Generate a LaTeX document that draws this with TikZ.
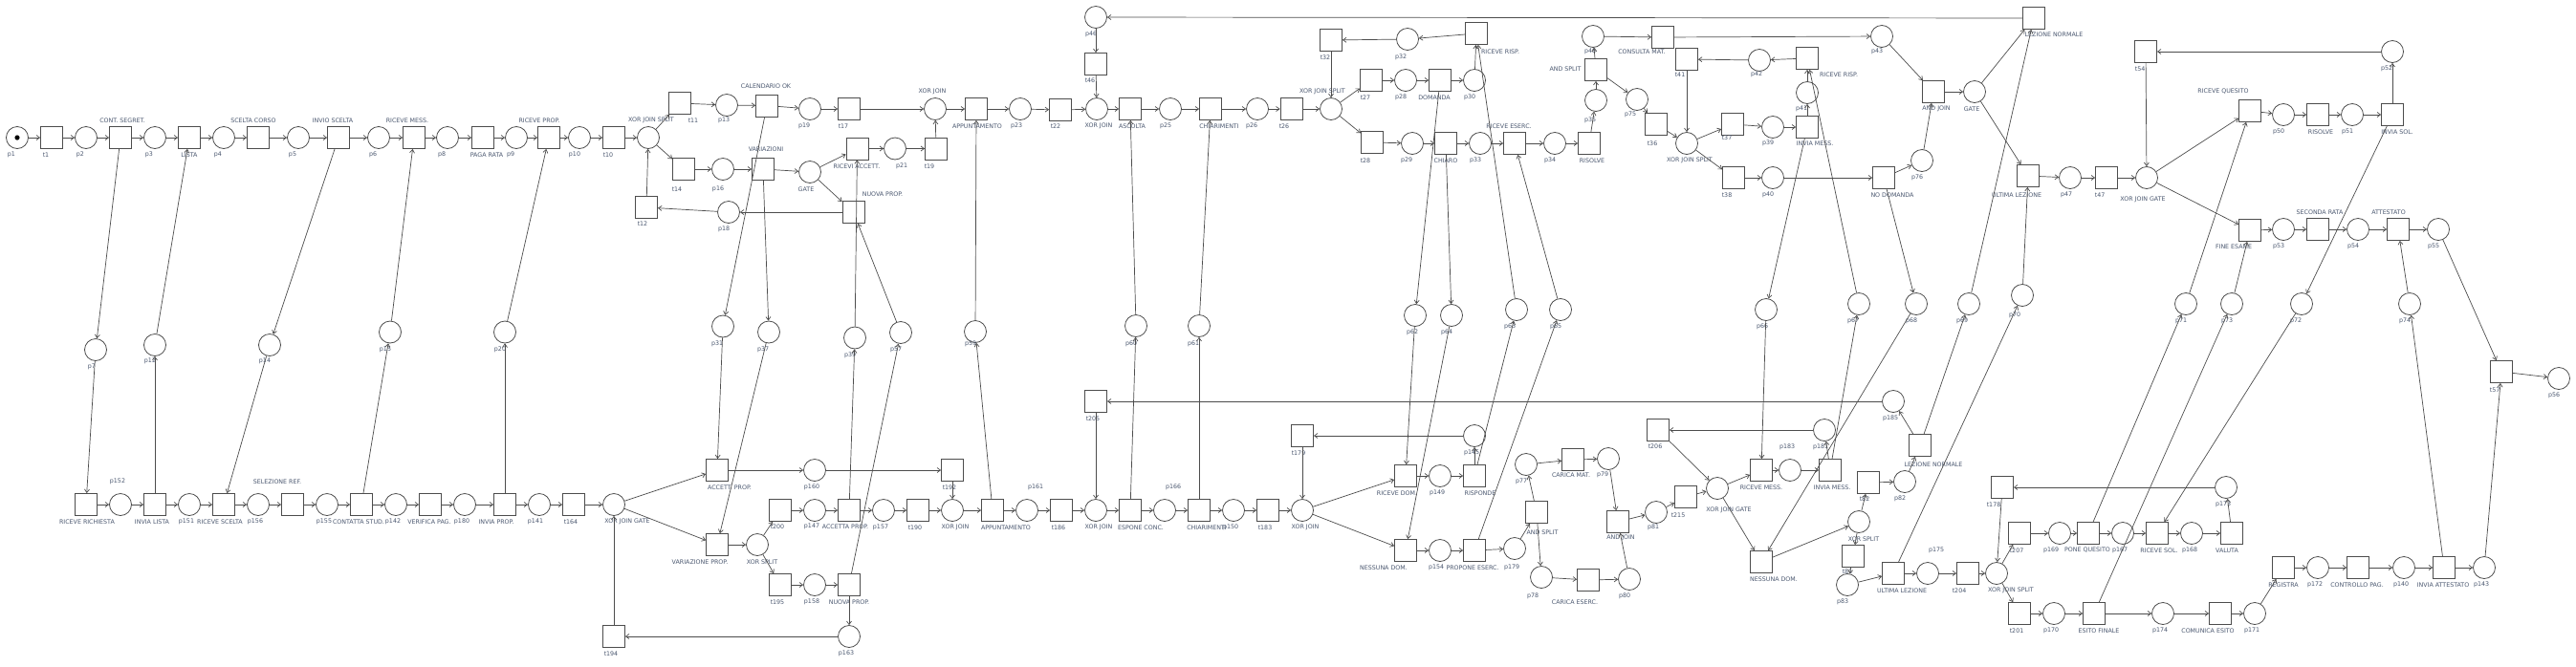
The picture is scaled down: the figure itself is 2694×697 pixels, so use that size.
\documentclass[tikz,border=0pt]{standalone}
\usepackage{fontspec}
\setmainfont{DejaVu Sans}
\usetikzlibrary{arrows.meta}
\definecolor{lnc}{HTML}{4D4D4D}
\definecolor{labc}{RGB}{75,88,112}
\tikzset{
 place/.style={circle,draw=lnc,line width=0.8pt,minimum size=23pt,inner sep=0pt},
 trans/.style={rectangle,draw=lnc,line width=0.8pt,minimum width=23pt,minimum height=23pt,inner sep=0pt},
 lab/.style={font=\fontsize{6.3}{7}\selectfont,text=labc,inner sep=0pt},
 arc/.style={draw=lnc,line width=0.7pt,-{Straight Barb[length=3.5pt,width=5pt]}},
}
\newcommand\PLc[4]{\node[place] (#1) at (#2) {}; \node[lab] (#1l) at (#4) {#3};}
\newcommand\TRc[4]{\node[trans] (#1) at (#2) {}; \node[lab] (#1l) at (#4) {#3};}
\begin{document}
\begin{tikzpicture}[x=1pt,y=-1pt]
\useasboundingbox (0,0) rectangle (2694,697);
\fill[white] (0,0) rectangle (2694,697);
% ---------- top places
\PLc{p1}{18,144}{p1}{12,162}
\fill[black] (p1) circle (2.6);
\PLc{p2}{90,144}{p2}{84,162}
\PLc{p3}{162,144}{p3}{156,162}
\PLc{p4}{234,144}{p4}{228,162}
\PLc{p5}{312,144}{p5}{306,162}
\PLc{p6}{396,144}{p6}{390,162}
\PLc{p8}{468,144}{p8}{462,162}
\PLc{p9}{540,144}{p9}{534,162}
\PLc{p10}{606,144}{p10}{601,162}
\PLc{xjs1}{678,144}{XOR JOIN SPLIT}{681,126}
\PLc{p13}{760,110}{p13}{757,126}
\PLc{p19}{847,114}{p19}{841,132}
\PLc{p16}{756,177}{p16}{751,198}
\PLc{gate1}{847,180}{GATE}{843,198}
\PLc{p18}{762,222}{p18}{757,240}
\PLc{p21}{936,155.5}{p21}{943,174}
\PLc{xj1}{978,114}{XOR JOIN}{975,96}
\PLc{p23}{1067,114}{p23}{1063,132}
\PLc{xj2}{1147,114}{XOR JOIN}{1149,132}
\PLc{p25}{1224,114}{p25}{1219,132}
\PLc{p26}{1315,114}{p26}{1309,132}
\PLc{p46}{1146,18}{p46}{1141,36}
\PLc{xjs2}{1392,114}{XOR JOIN SPLIT}{1383,96}
\PLc{p32}{1472,41}{p32}{1465,60}
\PLc{p28}{1470,84}{p28}{1465,102}
\PLc{p30}{1542,84}{p30}{1537,102}
\PLc{p29}{1477,150}{p29}{1471,168}
\PLc{p33}{1548,150}{p33}{1543,168}
\PLc{p34}{1626,150}{p34}{1621,168}
\PLc{p35}{1669,105}{p35}{1663,126}
\PLc{p48}{1666,38}{p48}{1663,54}
\PLc{p75}{1712,104}{p75}{1705,120}
\PLc{xjs3}{1764,150}{XOR JOIN SPLIT}{1767,168}
\PLc{p42}{1840,63}{p42}{1837,78}
\PLc{p39a}{1854,133}{p39}{1849,150}
\PLc{p41}{1890,97}{p41}{1884,114}
\PLc{p40}{1854,186}{p40}{1849,204}
\PLc{p43}{1968,38}{p43}{1963,54}
\PLc{p76}{2010,168}{p76}{2005,186}
\PLc{gate2}{2065,96}{GATE}{2062,114}
\PLc{p47}{2165,186}{p47}{2161,204}
\PLc{xjg1}{2245,186}{XOR JOIN GATE}{2241,209}
\PLc{p50}{2388,120}{p50}{2383,138}
\PLc{p51}{2460,120}{p51}{2455,138}
\PLc{p52}{2502,54}{p52}{2496,72}
\PLc{p53}{2388,240}{p53}{2383,258}
\PLc{p54}{2466,240}{p54}{2461,258}
\PLc{p55}{2550,240}{p55}{2545,258}
% ---------- middle places
\PLc{p7}{100,366}{p7}{96,384}
\PLc{p12}{162,361}{p12}{157,378}
\PLc{p14}{282,361}{p14}{277,378}
\PLc{p15}{408,347.5}{p15}{403,366}
\PLc{p20}{528,347.5}{p20}{523,366}
\PLc{p31}{756,341.5}{p31}{750,360}
\PLc{p37}{804,347.5}{p37}{798,366}
\PLc{p39b}{894,353.5}{p39}{889,372}
\PLc{p57}{942,348}{p57}{937,366}
\PLc{p59}{1020,347}{p59}{1015,360}
\PLc{p60}{1188,341}{p60}{1183,360}
\PLc{p61}{1254,341}{p61}{1248,360}
\PLc{p62}{1480,330}{p62}{1477,348}
\PLc{p64}{1518,330}{p64}{1513,348}
\PLc{p63}{1586,324}{p63}{1579,342}
\PLc{p65}{1632,324}{p65}{1627,342}
\PLc{p66}{1847,324}{p66}{1843,342}
\PLc{p67}{1944,318}{p67}{1938,336}
\PLc{p68}{2004,318}{p68}{1999,336}
\PLc{p69}{2059,318}{p69}{2052,336}
\PLc{p70}{2115,309}{p70}{2107,330}
\PLc{p71}{2286,318}{p71}{2281,336}
\PLc{p73}{2334,318}{p73}{2329,336}
\PLc{p72}{2407,318}{p72}{2401,336}
\PLc{p74}{2520,318}{p74}{2515,336}
% ---------- bottom places
\PLc{p152}{126,528}{p152}{123,504}
\PLc{p151}{198,528}{p151}{195,546}
\PLc{p156}{270,528}{p156}{267,546}
\PLc{p155}{342,528}{p155}{339,546}
\PLc{p142}{414,528}{p142}{411,546}
\PLc{p180}{486,528}{p180}{483,546}
\PLc{p141}{564,528}{p141}{560,546}
\PLc{xjg2}{642,528}{XOR JOIN GATE}{656,546}
\PLc{p160}{852,492}{p160}{849,510}
\PLc{xs1}{792,570}{XOR SPLIT}{797,588}
\PLc{p147}{852,534}{p147}{849,551}
\PLc{p158}{852,612}{p158}{849,630}
\PLc{p163}{888,666}{p163}{885,684}
\PLc{p157}{924,534}{p157}{921,552}
\PLc{xj3}{996,534}{XOR JOIN}{999,552}
\PLc{p161}{1074,534}{p161}{1083,510}
\PLc{xj4}{1146,534}{XOR JOIN}{1149,552}
\PLc{p166}{1218,534}{p166}{1227,510}
\PLc{p150}{1290,534}{p150}{1287,552}
\PLc{xj5}{1362,534}{XOR JOIN}{1365,552}
\PLc{p145}{1542,456}{p145}{1539,474}
\PLc{p149}{1506,498}{p149}{1503,516}
\PLc{p154}{1506,576}{p154}{1502,594}
\PLc{p179}{1584,574}{p179}{1581,594}
\PLc{p77}{1596,486}{p77}{1591,504}
\PLc{p79}{1682,480}{p79}{1676,497}
\PLc{p78}{1612,604}{p78}{1603,624}
\PLc{p80}{1704,606}{p80}{1699,624}
\PLc{p81}{1732,536}{p81}{1729,552}
\PLc{xjg3}{1796,511}{XOR JOIN GATE}{1808,534}
\PLc{p183}{1872,492}{p183}{1869,468}
\PLc{p181}{1908,450}{p181}{1904,468}
\PLc{p185}{1980,420}{p185}{1977,438}
\PLc{xs2}{1944,546}{XOR SPLIT}{1949,564}
\PLc{p82}{1992,504}{p82}{1987,522}
\PLc{p83}{1932,612}{p83}{1927,630}
\PLc{p175}{2016,600}{p175}{2025,576}
\PLc{xjs4}{2088,600}{XOR JOIN SPLIT}{2103,618}
\PLc{p169}{2154,558}{p169}{2145,576}
\PLc{p167}{2220,558}{p167}{2217,576}
\PLc{p168}{2292,558}{p168}{2290,576}
\PLc{p173}{2328,510}{p173}{2325,528}
\PLc{p170}{2148,642}{p170}{2145,660}
\PLc{p174}{2262,642}{p174}{2259,660}
\PLc{p171}{2358,642}{p171}{2355,660}
\PLc{p172}{2424,594}{p172}{2421,612}
\PLc{p140}{2514,594}{p140}{2511,612}
\PLc{p143}{2598,594}{p143}{2595,612}
\PLc{p56}{2676,396}{p56}{2671,414}
% ---------- top transitions
\TRc{t1}{54,144}{t1}{48,162}
\TRc{cs}{126,144}{CONT. SEGRET.}{128,126}
\TRc{lista}{198,144}{LISTA}{198,162}
\TRc{sc}{270,144}{SCELTA CORSO}{265,126}
\TRc{is}{354,144}{INVIO SCELTA}{348,126}
\TRc{rm1}{433,144}{RICEVE MESS.}{426,126}
\TRc{pr}{505,144}{PAGA RATA}{509,162}
\TRc{rp}{574,144}{RICEVE PROP.}{564,126}
\TRc{t10}{642,144}{t10}{636,162}
\TRc{t11}{711,108}{t11}{725,126}
\TRc{cal}{802,110.5}{CALENDARIO OK}{801,90}
\TRc{t17}{888,114}{t17}{882,132}
\TRc{t14}{715,177}{t14}{708,198}
\TRc{var}{798,177}{VARIAZIONI}{801,156}
\TRc{ra}{896.5,155.5}{RICEVI ACCETT.}{896,174}
\TRc{np1}{892.5,222}{NUOVA PROP.}{923,203}
\TRc{t12}{676,217}{t12}{672,234}
\TRc{t19}{979,155.5}{t19}{972,174}
\TRc{app1}{1021,114}{APPUNTAMENTO}{1022,132}
\TRc{t22}{1109,115}{t22}{1104,132}
\TRc{t46}{1146,67}{t46}{1140,84}
\TRc{asc}{1182,114}{ASCOLTA}{1184,132}
\TRc{chi1}{1266,114}{CHIARIMENTI}{1275,132}
\TRc{t26}{1350.5,114}{t26}{1343,132}
\TRc{t32}{1392,42}{t32}{1386,60}
\TRc{rr1}{1544,35}{RICEVE RISP.}{1569,54}
\TRc{t27}{1434,84}{t27}{1428,102}
\TRc{dom}{1506,84}{DOMANDA}{1500,102}
\TRc{t28}{1435,149}{t28}{1428,168}
\TRc{chiaro}{1512,150}{CHIARO}{1512,168}
\TRc{re}{1584,150}{RICEVE ESERC.}{1578,132}
\TRc{ris1}{1662,150}{RISOLVE}{1665,168}
\TRc{as1}{1669,73}{AND SPLIT}{1637,72}
\TRc{cm}{1739,39}{CONSULTA MAT.}{1717,54}
\TRc{t36}{1732,130}{t36}{1728,150}
\TRc{t41}{1764,62}{t41}{1757,78}
\TRc{t37}{1812,130}{t37}{1806,144}
\TRc{t38}{1813,186}{t38}{1806,204}
\TRc{im1}{1890,133}{INVIA MESS.}{1898,150}
\TRc{rr2}{1890,61}{RICEVE RISP.}{1923,78}
\TRc{nd}{1970,186}{NO DOMANDA}{1979,204}
\TRc{aj1}{2022,96}{AND JOIN}{2025,114}
\TRc{ln1}{2127,19}{LEZIONE NORMALE}{2148,36}
\TRc{ul1}{2121,184}{ULTIMA LEZIONE}{2109,204}
\TRc{t47}{2203,186}{t47}{2196,204}
\TRc{t54}{2244,54}{t54}{2238,72}
\TRc{rq}{2353,116}{RICEVE QUESITO}{2325,96}
\TRc{ris2}{2424,120}{RISOLVE}{2427,138}
\TRc{isol}{2502,120}{INVIA SOL.}{2507,138}
\TRc{fe}{2353,241}{FINE ESAME}{2336,258}
\TRc{sr}{2424,240}{SECONDA RATA}{2426,222}
\TRc{att}{2508,240}{ATTESTATO}{2498,222}
% ---------- bottom transitions
\TRc{rric}{90,528}{RICEVE RICHIESTA}{91,546}
\TRc{il}{162,528}{INVIA LISTA}{159,546}
\TRc{rs}{234,528}{RICEVE SCELTA}{230,546}
\TRc{sel}{306,528}{SELEZIONE REF.}{290,504}
\TRc{cst}{378,528}{CONTATTA STUD.}{375,546}
\TRc{vp}{450,528}{VERIFICA PAG.}{449,546}
\TRc{ip}{528,528}{INVIA PROP.}{519,546}
\TRc{t164}{600,528}{t164}{597,546}
\TRc{acc}{750,492}{ACCETT. PROP.}{763,510}
\TRc{vprop}{750,570}{VARIAZIONE PROP.}{732,588}
\TRc{t200}{816,534}{t200}{813,551}
\TRc{accp}{888,534}{ACCETTA PROP.}{884,551}
\TRc{t195}{816,612}{t195}{813,630}
\TRc{np2}{888,612}{NUOVA PROP.}{888,630}
\TRc{t194}{642,666}{t194}{639,684}
\TRc{t190}{960,534}{t190}{957,552}
\TRc{t192}{996,492}{t192}{993,510}
\TRc{app2}{1038,534}{APPUNTAMENTO}{1052,552}
\TRc{t186}{1110,534}{t186}{1107,552}
\TRc{t205}{1146,420}{t205}{1143,438}
\TRc{esp}{1182,534}{ESPONE CONC.}{1193,552}
\TRc{chi2}{1254,534}{CHIARIMENTI}{1262,552}
\TRc{t183}{1326,534}{t183}{1323,552}
\TRc{t179}{1362,456}{t179}{1358,474}
\TRc{rd}{1470,498}{RICEVE DOM.}{1461,516}
\TRc{risp}{1542,498}{RISPONDE}{1548,516}
\TRc{nd1}{1470,576}{NESSUNA DOM.}{1447,594}
\TRc{pe}{1542,576}{PROPONE ESERC.}{1540,594}
\TRc{as2}{1607,536}{AND SPLIT}{1613,557}
\TRc{cmat}{1645,481}{CARICA MAT.}{1643,497}
\TRc{ce}{1661,607}{CARICA ESERC.}{1647,630}
\TRc{aj2}{1692,546}{AND JOIN}{1695,563}
\TRc{t215}{1763,520}{t215}{1755,539}
\TRc{t206}{1734,450}{t206}{1731,467}
\TRc{rm2}{1842,492}{RICEVE MESS.}{1842,510}
\TRc{im2}{1914,492}{INVIA MESS.}{1916,510}
\TRc{nd2}{1842,588}{NESSUNA DOM.}{1855,606}
\TRc{t82}{1954,505}{t82}{1950,522}
\TRc{ln2}{2008,466}{LEZIONE NORMALE}{2022,486}
\TRc{t81}{1938,582}{t81}{1932,598}
\TRc{ul2}{1980,600}{ULTIMA LEZIONE}{1989,618}
\TRc{t204}{2058,600}{t204}{2049,618}
\TRc{t178}{2094,510}{t178}{2085,528}
\TRc{t207}{2112,558}{t207}{2109,576}
\TRc{pq}{2184,558}{PONE QUESITO}{2183,576}
\TRc{rsol}{2256,558}{RICEVE SOL.}{2258,576}
\TRc{val}{2334,558}{VALUTA}{2329,576}
\TRc{t201}{2112,642}{t201}{2109,660}
\TRc{ef}{2190,642}{ESITO FINALE}{2195,660}
\TRc{ces}{2322,642}{COMUNICA ESITO}{2309,660}
\TRc{reg}{2388,594}{REGISTRA}{2388,612}
\TRc{cp}{2466,594}{CONTROLLO PAG.}{2465,612}
\TRc{ia}{2556,594}{INVIA ATTESTATO}{2555,612}
\TRc{t57}{2616,389}{t57}{2609,408}
% ---------- arcs
\foreach \a/\b in {p1/t1,t1/p2,p2/cs,cs/p3,p3/lista,lista/p4,p4/sc,sc/p5,p5/is,is/p6,p6/rm1,rm1/p8,p8/pr,pr/p9,p9/rp,rp/p10,p10/t10,t10/xjs1,
 xjs1/t11,xjs1/t14,t11/p13,p13/cal,cal/p19,p19/t17,t14/p16,p16/var,var/gate1,gate1/ra,gate1/np1,np1/p18,p18/t12,t12/xjs1,
 ra/p21,p21/t19,t19/xj1,t17/xj1,xj1/app1,app1/p23,p23/t22,t22/xj2,p46/t46,t46/xj2,xj2/asc,asc/p25,p25/chi1,chi1/p26,p26/t26,t26/xjs2,ln1/p46,
 xjs2/t27,xjs2/t28,t27/p28,p28/dom,dom/p30,p30/rr1,rr1/p32,p32/t32,t32/xjs2,t28/p29,p29/chiaro,chiaro/p33,p33/re,re/p34,p34/ris1,ris1/p35,
 p35/as1,as1/p48,as1/p75,p48/cm,cm/p43,p75/t36,t36/xjs3,t41/xjs3,p42/t41,xjs3/t37,xjs3/t38,t37/p39a,p39a/im1,im1/p41,p41/rr2,rr2/p42,
 t38/p40,p40/nd,nd/p76,p76/aj1,p43/aj1,aj1/gate2,gate2/ln1,gate2/ul1,ul1/p47,p47/t47,t47/xjg1,t54/xjg1,p52/t54,xjg1/rq,xjg1/fe,
 rq/p50,p50/ris2,ris2/p51,p51/isol,isol/p52,fe/p53,p53/sr,sr/p54,p54/att,att/p55,p55/t57,t57/p56}
 \draw[arc] (\a) -- (\b);
\foreach \a/\b in {cs/p7,p7/rric,il/p12,p12/lista,is/p14,p14/rs,cst/p15,p15/rm1,ip/p20,p20/rp,cal/p31,p31/acc,var/p37,p37/vprop,
 accp/p39b,p39b/ra,np2/p57,p57/np1,app2/p59,p59/app1,esp/p60,p60/asc,chi2/p61,p61/chi1,dom/p62,p62/rd,chiaro/p64,p64/nd1,
 risp/p63,p63/rr1,pe/p65,p65/re,im1/p66,p66/rm2,im2/p67,p67/rr2,nd/p68,p68/nd2,ln2/p69,p69/ln1,ul2/p70,p70/ul1,
 pq/p71,p71/rq,ef/p73,p73/fe,isol/p72,p72/rsol,ia/p74,p74/att}
 \draw[arc] (\a) -- (\b);
\foreach \a/\b in {rric/p152,p152/il,il/p151,p151/rs,rs/p156,p156/sel,sel/p155,p155/cst,cst/p142,p142/vp,vp/p180,p180/ip,ip/p141,p141/t164,t164/xjg2,
 xjg2/acc,xjg2/vprop,acc/p160,p160/t192,vprop/xs1,xs1/t200,xs1/t195,t200/p147,p147/accp,t195/p158,p158/np2,np2/p163,p163/t194,t194/xjg2,
 accp/p157,p157/t190,t190/xj3,t192/xj3,xj3/app2,app2/p161,p161/t186,t186/xj4,t205/xj4,xj4/esp,esp/p166,p166/chi2,chi2/p150,p150/t183,t183/xj5,
 p185/t205,p145/t179,t179/xj5,xj5/rd,xj5/nd1,rd/p149,p149/risp,risp/p145,nd1/p154,p154/pe,pe/p179,p179/as2,as2/p77,p77/cmat,cmat/p79,p79/aj2,
 as2/p78,p78/ce,ce/p80,p80/aj2,aj2/p81,p81/t215,t215/xjg3,t206/xjg3,p181/t206,
 xjg3/rm2,xjg3/nd2,rm2/p183,p183/im2,im2/p181,nd2/xs2,xs2/t82,xs2/t81,t82/p82,p82/ln2,ln2/p185,t81/p83,p83/ul2,ul2/p175,p175/t204,t204/xjs4,
 t178/xjs4,p173/t178,xjs4/t207,xjs4/t201,t207/p169,p169/pq,pq/p167,p167/rsol,rsol/p168,p168/val,val/p173,
 t201/p170,p170/ef,ef/p174,p174/ces,ces/p171,p171/reg,reg/p172,p172/cp,cp/p140,p140/ia,ia/p143,p143/t57}
 \draw[arc] (\a) -- (\b);
\end{tikzpicture}
\end{document}
